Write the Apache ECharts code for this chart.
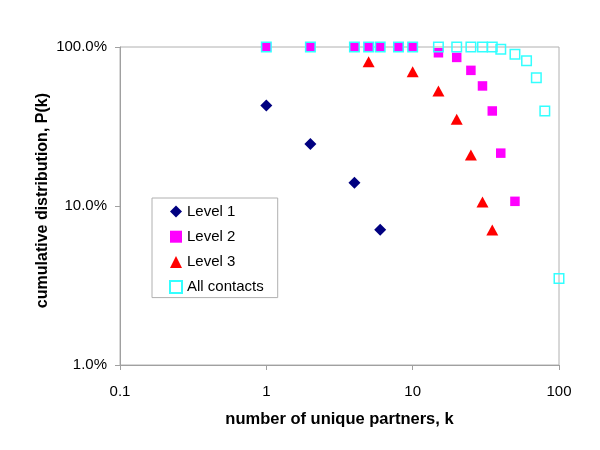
<!DOCTYPE html>
<html>
<head>
<meta charset="utf-8">
<script src="https://cdn.jsdelivr.net/npm/echarts@6/dist/echarts.min.js"></script>
<style>html,body{margin:0;padding:0;background:#fff}#c{width:600px;height:450px}</style>
</head>
<body>
<div id="c"></div>
<script>
// k values and cumulative distribution P(k) (fraction)
var level1K = [1, 2, 4, 6];
var level1P = [0.429, 0.245, 0.140, 0.071];
var level2K = [1, 2, 4, 5, 6, 8, 10, 15, 20, 25, 30, 35, 40, 50];
var level2P = [1, 1, 1, 1, 1, 1, 1, 0.92, 0.86, 0.713, 0.569, 0.396, 0.215, 0.107];
var level3K = [5, 10, 15, 20, 25, 30, 35];
var level3P = [0.809, 0.70, 0.529, 0.351, 0.209, 0.106, 0.0706];
var allK = [1, 2, 4, 5, 6, 8, 10, 15, 20, 25, 30, 35, 40, 50, 60, 70, 80, 100];
var allP = [1, 1, 1, 1, 1, 1, 1, 1, 1, 1, 1, 1, 0.967, 0.90, 0.82, 0.641, 0.396, 0.035];
var seriesNames = ['Level 1', 'Level 2', 'Level 3', 'All contacts'];
var xTicks = [0.1, 1, 10, 100];
var yTicks = [0.01, 0.1, 1];

function pairs(k, p) { return k.map(function (v, i) { return [v, p[i]]; }); }

var font = 'Liberation Sans, Arial, sans-serif';
var chart = echarts.init(document.getElementById('c'));
chart.setOption({
  backgroundColor: '#fff',
  animation: false,
  grid: { left: 120, right: 41, top: 47, bottom: 85, show: true, borderColor: '#b0b0b0', borderWidth: 1 },
  xAxis: {
    type: 'log', logBase: 10, min: xTicks[0], max: xTicks[xTicks.length - 1],
    name: 'number of unique partners, k', nameLocation: 'middle', nameGap: 46,
    nameTextStyle: { fontFamily: font, fontSize: 16.5, fontWeight: 'bold', color: '#000' },
    axisLine: { lineStyle: { color: '#a0a0a0' } },
    axisTick: { show: true, length: 5, lineStyle: { color: '#a0a0a0' } },
    minorTick: { show: false },
    splitLine: { show: false },
    axisLabel: { fontFamily: font, fontSize: 15, color: '#000', margin: 19,
      formatter: function (v) { return String(+(+v).toPrecision(3)); } }
  },
  yAxis: {
    type: 'log', logBase: 10, min: yTicks[0], max: yTicks[yTicks.length - 1],
    axisLine: { lineStyle: { color: '#a0a0a0' } },
    axisTick: { show: true, length: 5, lineStyle: { color: '#a0a0a0' } },
    splitLine: { show: false },
    axisLabel: { fontFamily: font, fontSize: 15, color: '#000', margin: 13, padding: [6, 0, 0, 0],
      formatter: function (v) { return (v * 100).toFixed(1) + '%'; } }
  },
  graphic: [{
    type: 'text', left: 35, top: 93, rotation: Math.PI / 2,
    style: { text: 'cumulative distribution, P(k)', fontFamily: font, fontSize: 16, fontWeight: 'bold', fill: '#000' }
  }],
  legend: {
    orient: 'vertical', left: 152, top: 198,
    padding: [6, 14, 3, 17],
    itemGap: 10.2, itemWidth: 12, itemHeight: 12,
    borderColor: '#b0b0b0', borderWidth: 1,
    textStyle: { fontFamily: font, fontSize: 15, color: '#000', lineHeight: 15 },
    data: [
      { name: seriesNames[0], icon: 'diamond' },
      { name: seriesNames[1], icon: 'rect', itemStyle: { color: '#ff00ff' } },
      { name: seriesNames[2], icon: 'triangle' },
      { name: seriesNames[3], icon: 'rect' }
    ]
  },
  series: [
    { name: seriesNames[0], type: 'scatter', symbol: 'diamond', symbolSize: [12, 12],
      itemStyle: { color: '#000080', opacity: 1 }, data: pairs(level1K, level1P) },
    { name: seriesNames[1], type: 'scatter', symbol: 'rect', symbolSize: 9.5,
      itemStyle: { color: '#ff00ff', opacity: 1 }, data: pairs(level2K, level2P) },
    { name: seriesNames[2], type: 'scatter', symbol: 'triangle', symbolSize: [12, 11],
      itemStyle: { color: '#ff0000', opacity: 1 }, data: pairs(level3K, level3P) },
    { name: seriesNames[3], type: 'scatter', symbol: 'rect', symbolSize: 9.5,
      itemStyle: { color: 'rgba(255,255,255,0)', borderColor: '#33ffff', borderWidth: 1.5, opacity: 1 },
      data: pairs(allK, allP) }
  ]
});
</script>
</body>
</html>
